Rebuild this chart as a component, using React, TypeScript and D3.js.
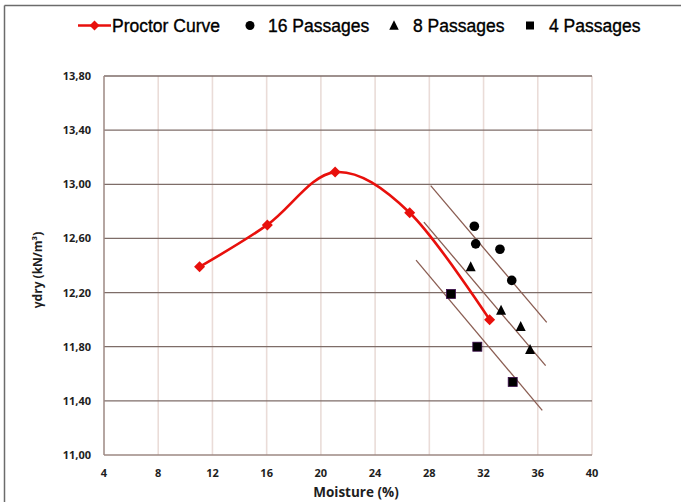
import React from "react";
import * as d3 from "d3";

const W = 681;
const H = 502;

const xTicks = [4, 8, 12, 16, 20, 24, 28, 32, 36, 40];
const yTicks = [11.0, 11.4, 11.8, 12.2, 12.6, 13.0, 13.4, 13.8];

const proctorMoisture = [11.05, 16.05, 21.05, 26.55, 32.45];
const proctorDensity = [12.39, 12.7, 13.09, 12.79, 12.0];

const p16Moisture = [31.32, 31.42, 33.21, 34.08];
const p16Density = [12.69, 12.56, 12.52, 12.29];

const p8Moisture = [31.05, 33.29, 34.74, 35.43];
const p8Density = [12.39, 12.07, 11.95, 11.78];

const p4Moisture = [29.6, 31.54, 34.15];
const p4Density = [12.19, 11.8, 11.54];

// trend lines: [x1, y1, x2, y2]
const trend16 = [28.1, 12.99, 36.66, 11.98];
const trend8 = [27.6, 12.72, 36.58, 11.66];
const trend4 = [27.02, 12.44, 36.33, 11.33];

const legendLabels = ["Proctor Curve", "16 Passages", "8 Passages", "4 Passages"];

const tickFont = "'Open Sans', sans-serif";

export default function App() {
  const x = d3.scaleLinear().domain([4, 40]).range([104, 592]);
  const y = d3.scaleLinear().domain([11, 13.8]).range([455, 76]);

  const proctor = proctorMoisture.map((m, i) => [m, proctorDensity[i]] as [number, number]);
  const line = d3
    .line<[number, number]>()
    .x((d) => x(d[0]))
    .y((d) => y(d[1]))
    .curve(d3.curveCardinal.tension(0));

  const fmt = (v: number) => v.toFixed(2).replace(".", ",");

  const diamond = (cx: number, cy: number, r: number) =>
    `M${cx},${cy - r}L${cx + r},${cy}L${cx},${cy + r}L${cx - r},${cy}Z`;
  const tri = (cx: number, cy: number, s: number) =>
    `M${cx},${cy - s * 0.55}L${cx + s / 2},${cy + s * 0.45}L${cx - s / 2},${cy + s * 0.45}Z`;

  const trends = [trend16, trend8, trend4];

  return (
    <svg
      width={W}
      height={H}
      style={{ position: "absolute", left: 0, top: 0, background: "#fff" }}
    >
      <rect x={0} y={0} width={W} height={H} fill="#fff" />
      {/* outer frame */}
      <line x1={4.5} y1={5.5} x2={W} y2={5.5} stroke="#6b6b6b" strokeWidth={1.5} />
      <line x1={4.5} y1={5.5} x2={4.5} y2={H} stroke="#6b6b6b" strokeWidth={1.5} />

      {/* vertical gridlines */}
      {xTicks.slice(1).map((t) => (
        <line key={"vx" + t} x1={x(t)} x2={x(t)} y1={y(13.8)} y2={y(11)} stroke="#eadcd8" strokeWidth={1.6} />
      ))}
      {/* horizontal gridlines */}
      {yTicks.slice(1).map((t) => (
        <line key={"hy" + t} x1={x(4)} x2={x(40)} y1={y(t)} y2={y(t)} stroke="#7e6d68" strokeWidth={1.3} />
      ))}
      {/* axes */}
      <line x1={x(4)} x2={x(4)} y1={y(13.8)} y2={y(11)} stroke="#9c8883" strokeWidth={1.5} />
      <line x1={x(4)} x2={x(40)} y1={y(11)} y2={y(11)} stroke="#9c8883" strokeWidth={1.5} />

      {/* y tick labels */}
      {yTicks.map((t) => (
        <text
          key={"yl" + t}
          x={91}
          y={y(t) + 4}
          textAnchor="end"
          fontFamily={tickFont}
          fontWeight="bold"
          fontSize={11}
          fill="#1e1e1e"
        >
          {fmt(t)}
        </text>
      ))}
      {/* x tick labels */}
      {xTicks.map((t) => (
        <text
          key={"xl" + t}
          x={x(t)}
          y={477}
          textAnchor="middle"
          fontFamily={tickFont}
          fontWeight="bold"
          fontSize={11}
          fill="#1e1e1e"
        >
          {t}
        </text>
      ))}
      {/* axis titles */}
      <text
        x={356}
        y={497}
        textAnchor="middle"
        fontFamily={tickFont}
        fontWeight="bold"
        fontSize={13.5}
        fill="#1e1e1e"
      >
        Moisture (%)
      </text>
      <text
        transform="translate(42,270) rotate(-90)"
        textAnchor="middle"
        fontFamily={tickFont}
        fontWeight="bold"
        fontSize={12}
        fill="#1e1e1e"
      >
        γdry (kN/m³)
      </text>

      {/* trend lines */}
      {trends.map((t, i) => (
        <line
          key={"tr" + i}
          x1={x(t[0])}
          y1={y(t[1])}
          x2={x(t[2])}
          y2={y(t[3])}
          stroke="#8a5d52"
          strokeWidth={1.3}
        />
      ))}

      {/* proctor curve */}
      <path d={line(proctor) || ""} fill="none" stroke="#e8100c" strokeWidth={2.6} />
      {proctor.map((d, i) => (
        <path key={"pd" + i} d={diamond(x(d[0]), y(d[1]), 5.5)} fill="#e8100c" />
      ))}

      {/* 16 passages */}
      {p16Moisture.map((m, i) => (
        <circle key={"c" + i} cx={x(m)} cy={y(p16Density[i])} r={4.8} fill="#000" />
      ))}
      {/* 8 passages */}
      {p8Moisture.map((m, i) => (
        <path key={"t" + i} d={tri(x(m), y(p8Density[i]), 10)} fill="#000" />
      ))}
      {/* 4 passages */}
      {p4Moisture.map((m, i) => (
        <rect
          key={"s" + i}
          x={x(m) - 4.5}
          y={y(p4Density[i]) - 4.5}
          width={9}
          height={9}
          fill="#000"
          stroke="#3a0a4a"
          strokeWidth={0.8}
        />
      ))}

      {/* legend */}
      <g
        fontFamily="'Liberation Sans', Arial, sans-serif"
        fontSize={17.5}
        fill="#000"
        stroke="#000"
        strokeWidth={0.35}
      >
        <line x1={78} x2={111} y1={25.5} y2={25.5} stroke="#e8100c" strokeWidth={2.5} />
        <path d={diamond(94.5, 25.5, 5)} fill="#e8100c" stroke="none" />
        <text x={112} y={31.5}>{legendLabels[0]}</text>

        <circle cx={250} cy={25.5} r={4.5} fill="#000" stroke="none" />
        <text x={268} y={31.5}>{legendLabels[1]}</text>

        <path d={tri(394, 25.5, 9.5)} fill="#000" stroke="none" />
        <text x={413} y={31.5}>{legendLabels[2]}</text>

        <rect x={526} y={21.5} width={8} height={8} fill="#000" stroke="none" />
        <text x={549} y={31.5}>{legendLabels[3]}</text>
      </g>
    </svg>
  );
}
